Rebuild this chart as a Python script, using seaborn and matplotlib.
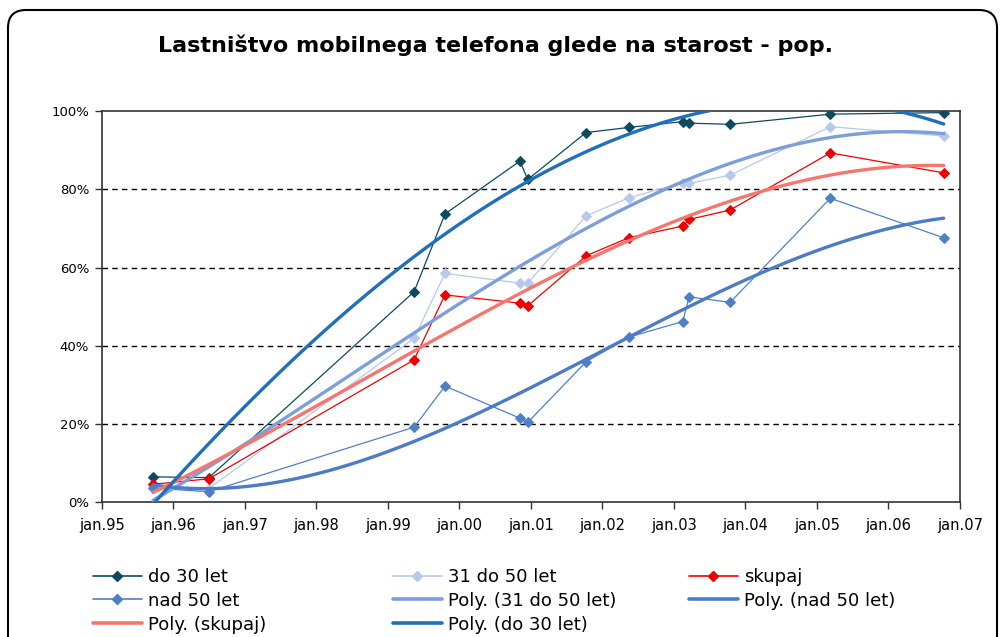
import numpy as np
import pandas as pd
import matplotlib
matplotlib.use("Agg")
import matplotlib.pyplot as plt
from matplotlib.patches import FancyBboxPatch
from matplotlib.lines import Line2D
import seaborn as sns

# survey dates and ownership shares (%)
dates = ["1995-09-20", "1996-07-01", "1999-05-15", "1999-10-20", "2000-11-05",
         "2000-12-15", "2001-10-10", "2002-05-15", "2003-02-15", "2003-03-20",
         "2003-10-15", "2005-03-10", "2006-10-10"]
do_30 = [6.5, 6.3, 53.8, 73.7, 87.2, 82.5, 94.5, 95.8, 97.3, 96.9, 96.6, 99.2, 99.6]
od_31_50 = [4.0, 3.5, 41.9, 58.5, 56.0, 56.0, 73.2, 77.8, 81.7, 81.5, 83.6, 96.0, 93.6]
skupaj = [4.6, 6.0, 36.4, 53.0, 50.9, 50.2, 63.0, 67.6, 70.6, 72.3, 74.7, 89.3, 84.2]
nad_50 = [3.6, 2.7, 19.2, 29.7, 21.5, 20.4, 35.9, 42.2, 46.2, 52.5, 51.1, 77.7, 67.6]

year_ticks = list(range(1995, 2008))
tick_labels = [f"jan.{y % 100:02d}" for y in year_ticks]

d = pd.to_datetime(pd.Series(dates))
x = (d.dt.year - 1995) + (d.dt.dayofyear - 1) / 365.0

series = {
    "do 30 let": (do_30, "#0d4a5f"),
    "31 do 50 let": (od_31_50, "#b8c8ea"),
    "skupaj": (skupaj, "#f00000"),
    "nad 50 let": (nad_50, "#4f80c6"),
}
trends = {
    "31 do 50 let": "#7d9edb",
    "nad 50 let": "#4c7cc5",
    "skupaj": "#f5766e",
    "do 30 let": "#1f6fbd",
}

sns.set_style("white")
plt.rcParams["font.family"] = ["DejaVu Sans"]
plt.rcParams["text.color"] = "black"
plt.rcParams["xtick.color"] = "black"
plt.rcParams["ytick.color"] = "black"

fig = plt.figure(figsize=(10, 6.37), dpi=100)
ax = fig.add_axes([0.1017, 0.2115, 0.8583, 0.6142])

handles = {}
for name, (vals, col) in series.items():
    sns.lineplot(x=x, y=vals, ax=ax, color=col, lw=0.9, marker="D",
                 markersize=5, markeredgecolor=col, zorder=3)
    handles[name] = Line2D([], [], color=col, lw=1.2, marker="D", markersize=5,
                           markeredgecolor=col)

# Excel-style polynomial (order 3) trendlines
for name, col in trends.items():
    vals = series[name][0]
    sns.regplot(x=x, y=np.array(vals), ax=ax, order=3, scatter=False, ci=None,
                truncate=True, line_kws=dict(color=col, lw=2.4, zorder=4))
    handles["Poly. (" + name + ")"] = Line2D([], [], color=col, lw=2.6)

ax.set_xlim(0, 12)
ax.set_ylim(0, 100)
ax.set_xticks(range(13))
ax.set_xticklabels(tick_labels, fontsize=10.5)
ax.set_yticks(range(0, 101, 20))
ax.set_yticklabels([f"{v}%" for v in range(0, 101, 20)], fontsize=9.5)
ax.set_xlabel("")
ax.set_ylabel("")
ax.tick_params(axis="both", direction="out", length=5, width=1, color="#333333",
               bottom=True, left=True)
ax.tick_params(axis="x", pad=6)
ax.tick_params(axis="y", pad=4)
for v in range(20, 100, 20):
    ax.axhline(v, color="black", lw=1, ls=(0, (4, 3)), zorder=1)
for s in ax.spines.values():
    s.set_color("#333333")
    s.set_linewidth(1.2)

fig.text(0.495, 1 - 45 / 637, "Lastništvo mobilnega telefona glede na starost - pop.",
         ha="center", va="center", fontsize=16, fontweight="bold")

cols = [
    (["do 30 let", "nad 50 let", "Poly. (skupaj)"], 0.093),
    (["31 do 50 let", "Poly. (31 do 50 let)", "Poly. (do 30 let)"], 0.393),
    (["skupaj", "Poly. (nad 50 let)"], 0.689),
]
for names, x0 in cols:
    fig.legend([handles[n] for n in names], names, loc="upper left",
               bbox_to_anchor=(x0, 1 - 568 / 637), frameon=False,
               fontsize=13, handlelength=2.7, handletextpad=0.35,
               labelspacing=0.32, borderaxespad=0, borderpad=0)

border = FancyBboxPatch((8, -40), 989, 637 - 10 + 40,
                        boxstyle="round,pad=0,rounding_size=18",
                        transform=None, fill=False, ec="black", lw=1.5)
fig.patches.append(border)

fig.savefig("out.png", dpi=100)
